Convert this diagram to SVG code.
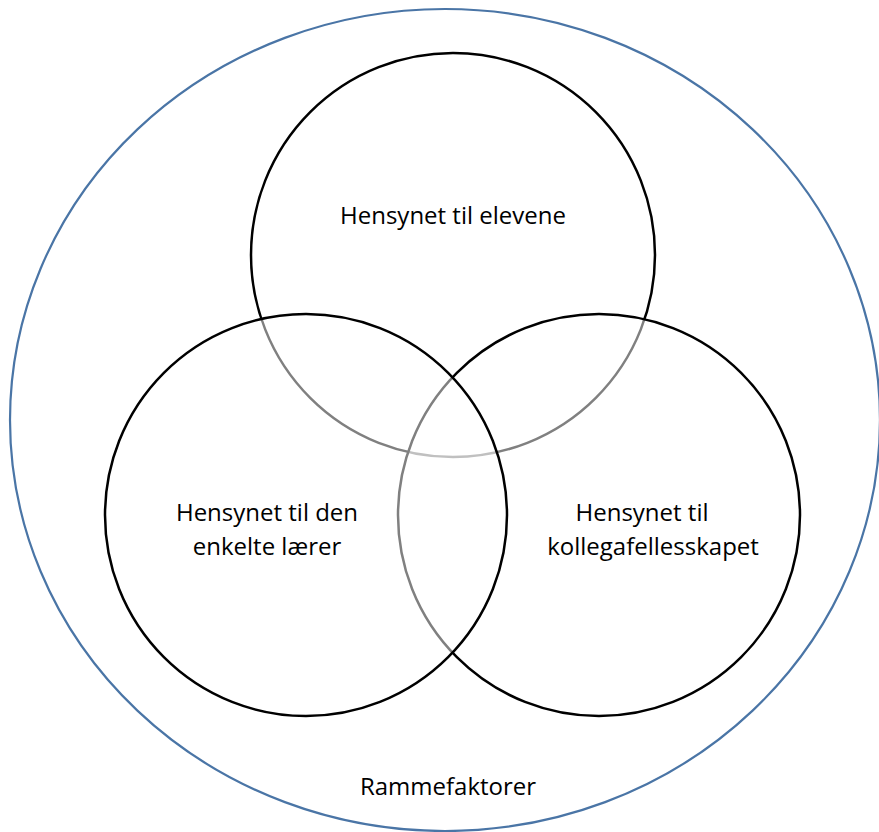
<svg xmlns="http://www.w3.org/2000/svg" width="879" height="832" viewBox="0 0 879 832">
<style>
.outer{fill:none;stroke:#4a75a6;stroke-width:2.2}
.c{stroke:#000;stroke-width:2.5}
.t{font-family:"Open Sans","Liberation Sans",sans-serif;font-size:24px;fill:#000;text-anchor:middle}
</style>
<rect width="879" height="832" fill="#fff"/>
<g id="rammefaktorer">
<ellipse class="outer" cx="445" cy="420" rx="435" ry="411"/>
<text class="t" x="448" y="795">Rammefaktorer</text>
</g>
<g id="elevene">
<circle class="c" cx="453" cy="255" r="202" fill="none"/>
<text class="t" x="453" y="224">Hensynet til elevene</text>
</g>
<g id="kollegafellesskapet">
<circle class="c" cx="599" cy="515" r="201" fill="#fff" fill-opacity="0.5"/>
<text class="t" x="642" y="521">Hensynet til</text>
<text class="t" x="653" y="555">kollegafellesskapet</text>
</g>
<g id="laerer">
<circle class="c" cx="306" cy="515" r="201" fill="#fff" fill-opacity="0.5"/>
<text class="t" x="267" y="521">Hensynet til den</text>
<text class="t" x="267" y="555">enkelte lærer</text>
</g>
<g id="connectors"/>
</svg>
